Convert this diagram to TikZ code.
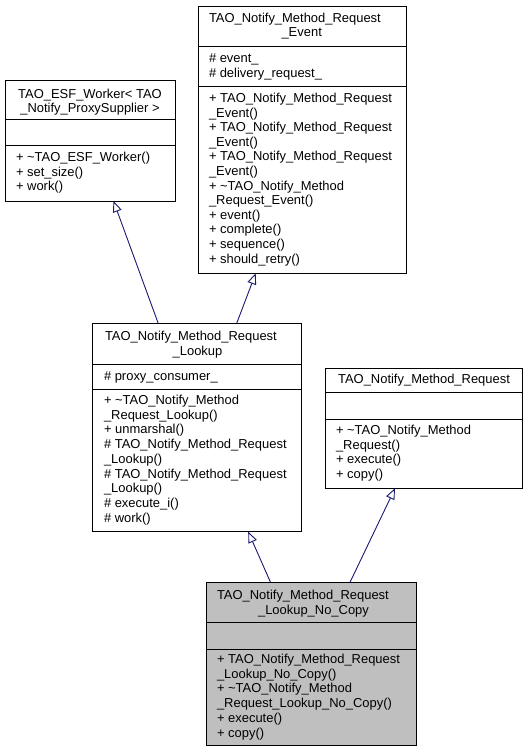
\documentclass[tikz,border=0pt]{standalone}
\usepackage{fontspec}
\setmainfont{Liberation Sans}
\usetikzlibrary{arrows.meta}
\definecolor{edgeblue}{HTML}{191970}
\definecolor{hlgray}{HTML}{BFBFBF}
\begin{document}
\begin{tikzpicture}[x=1bp,y=-1bp,
  font=\fontsize{13}{14.6}\selectfont,
  box/.style={draw=black, line width=0.9bp, fill=white, inner sep=0, outer sep=0, anchor=north west},
  sep/.style={draw=black, line width=0.9bp},
  txt/.style={anchor=base west, inner sep=0, outer sep=0},
  ctxt/.style={anchor=base, inner sep=0, outer sep=0},
  inh/.style={draw=edgeblue, line width=0.9bp, -{Triangle[open, length=11bp, width=9bp, fill=white]}}]
\useasboundingbox (0,0) rectangle (528,752);

% ---- boxes
\node[box, minimum width=170bp, minimum height=121bp] (esf) at (5,80) {};
\node[box, minimum width=207.3bp, minimum height=266.6bp] (event) at (198.7,6.7) {};
\node[box, minimum width=208.3bp, minimum height=208.4bp] (lookup) at (92.7,323.3) {};
\node[box, minimum width=197.7bp, minimum height=120bp] (mreq) at (325,368.3) {};
\node[box, fill=hlgray, minimum width=210bp, minimum height=162.7bp] (nocopy) at (206,582.3) {};

% ---- separators
\draw[sep] (5,119.5) -- (175,119.5);
\draw[sep] (5,145.5) -- (175,145.5);
\draw[sep] (198.7,46.7) -- (406,46.7);
\draw[sep] (198.7,86.7) -- (406,86.7);
\draw[sep] (92.7,364) -- (301,364);
\draw[sep] (92.7,389) -- (301,389);
\draw[sep] (325,392.7) -- (522.7,392.7);
\draw[sep] (325,419) -- (522.7,419);
\draw[sep] (206,622.3) -- (416,622.3);
\draw[sep] (206,649) -- (416,649);

% ---- ESF worker
\node[ctxt] (esft1) at (90,98) {TAO\_ESF\_Worker< TAO};
\node[ctxt] (esft2) at (90,112.5) {\_Notify\_ProxySupplier >};
\foreach \t [count=\i from 0] in {+ \textasciitilde{}TAO\_ESF\_Worker(), + set\_size(), + work()}
  \node[txt] (esfm\i) at (16,161.5+14.6*\i) {\t};

% ---- Event
\node[txt] (evt1) at (209,22.5) {TAO\_Notify\_Method\_Request};
\node[ctxt] (evt2) at (301.7,37) {\_Event};
\node[txt] (eva1) at (209,62.5) {\# event\_};
\node[txt] (eva2) at (209,77) {\# delivery\_request\_};
\foreach \t [count=\i from 0] in {+ TAO\_Notify\_Method\_Request, \_Event(), + TAO\_Notify\_Method\_Request, \_Event(), + TAO\_Notify\_Method\_Request, \_Event(), + \textasciitilde{}TAO\_Notify\_Method, \_Request\_Event(), + event(), + complete(), + sequence(), + should\_retry()}
  \node[txt] (evm\i) at (209,102.5+14.6*\i) {\t};

% ---- Lookup
\node[txt] (lut1) at (105,340.5) {TAO\_Notify\_Method\_Request};
\node[ctxt] (lut2) at (197.5,355) {\_Lookup};
\node[txt] (lua1) at (104,380.5) {\# proxy\_consumer\_};
\foreach \t [count=\i from 0] in {+ \textasciitilde{}TAO\_Notify\_Method, \_Request\_Lookup(), + unmarshal(), \# TAO\_Notify\_Method\_Request, \_Lookup(), \# TAO\_Notify\_Method\_Request, \_Lookup(), \# execute\_i(), \# work()}
  \node[txt] (lum\i) at (104,404.5+14.7*\i) {\t};

% ---- Method Request
\node[ctxt] (mrt1) at (424,383.5) {TAO\_Notify\_Method\_Request};
\foreach \t [count=\i from 0] in {+ \textasciitilde{}TAO\_Notify\_Method, \_Request(), + execute(), + copy()}
  \node[txt] (mrm\i) at (336,434.5+14.7*\i) {\t};

% ---- No Copy
\node[txt] (nct1) at (217,599.5) {TAO\_Notify\_Method\_Request};
\node[ctxt] (nct2) at (313.5,614) {\_Lookup\_No\_Copy};
\foreach \t [count=\i from 0] in {+ TAO\_Notify\_Method\_Request, \_Lookup\_No\_Copy(), + \textasciitilde{}TAO\_Notify\_Method, \_Request\_Lookup\_No\_Copy(), + execute(), + copy()}
  \node[txt] (ncm\i) at (217,663.5+14.7*\i) {\t};

% ---- inheritance connectors
\draw[inh] ([xshift=65.5bp]lookup.north west) -- ([xshift=108.5bp]esf.south west);
\draw[inh] ([xshift=144bp]lookup.north west) -- ([xshift=57bp]event.south west);
\draw[inh] ([xshift=64.5bp]nocopy.north west) -- ([xshift=155.5bp]lookup.south west);
\draw[inh] ([xshift=144bp]nocopy.north west) -- ([xshift=70bp]mreq.south west);
\end{tikzpicture}
\end{document}
